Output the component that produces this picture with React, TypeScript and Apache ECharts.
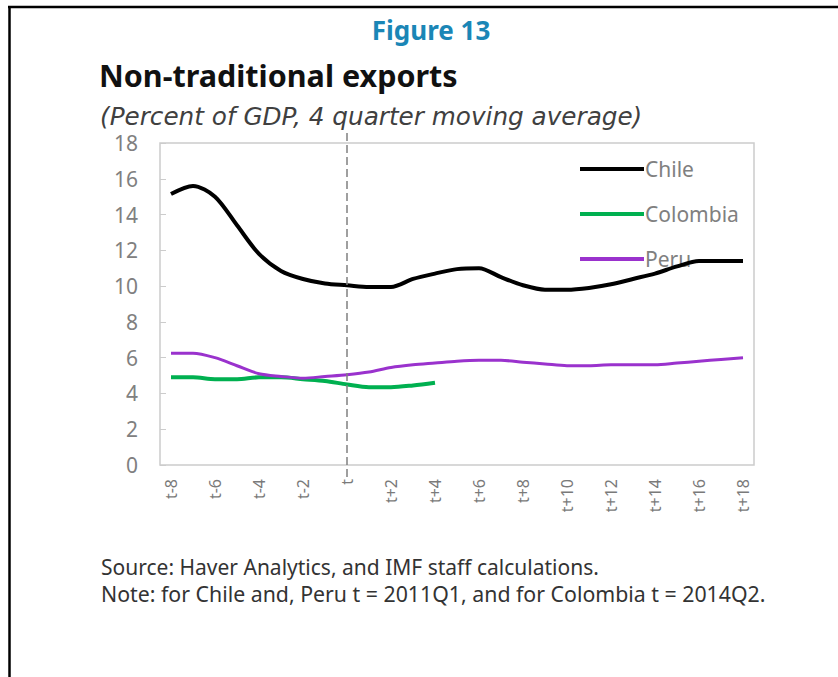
import React, { useEffect, useRef } from "react";
import * as echarts from "echarts";

const categories = [
  "t-8", "t-7", "t-6", "t-5", "t-4", "t-3", "t-2", "t-1", "t",
  "t+1", "t+2", "t+3", "t+4", "t+5", "t+6", "t+7", "t+8", "t+9", "t+10",
  "t+11", "t+12", "t+13", "t+14", "t+15", "t+16", "t+17", "t+18",
];

const chile = [
  15.15, 15.6, 15.0, 13.4, 11.8, 10.85, 10.4, 10.15, 10.05,
  9.95, 9.95, 10.4, 10.7, 10.95, 11.0, 10.5, 10.05, 9.8, 9.8,
  9.9, 10.1, 10.4, 10.7, 11.1, 11.4, 11.4, 11.4,
];

const colombia = [
  4.9, 4.9, 4.8, 4.8, 4.9, 4.9, 4.8, 4.7, 4.5,
  4.35, 4.35, 4.45, 4.6,
];

const peru = [
  6.25, 6.25, 6.0, 5.55, 5.1, 4.95, 4.85, 4.95, 5.05,
  5.2, 5.45, 5.6, 5.7, 5.8, 5.85, 5.85, 5.75, 5.65, 5.55,
  5.55, 5.6, 5.6, 5.6, 5.7, 5.8, 5.9, 6.0,
];

const seriesNames = ["Chile", "Colombia", "Peru"];
const seriesColors = ["#000000", "#00b050", "#9a32cd"];
const markerCategory = "t";

const figureLabel = "Figure 13";
const titleText = "Non-traditional exports";
const subtitleText = "(Percent of GDP, 4 quarter moving average)";
const sourceText = "Source: Haver Analytics, and IMF staff calculations.";
const noteText = "Note: for Chile and, Peru t = 2011Q1, and for Colombia t = 2014Q2.";

const FONT = '"Noto Sans", "Open Sans", sans-serif';

export default function App() {
  const ref = useRef<HTMLDivElement>(null);

  useEffect(() => {
    document.body.style.margin = "0";
    if (!ref.current) return;
    const chart = echarts.init(ref.current, null, { renderer: "svg" });

    const option: any = {
      animation: false,
      backgroundColor: "#ffffff",
      textStyle: { fontFamily: FONT },
      grid: {
        left: 160,
        top: 143,
        right: 84,
        bottom: 212,
        show: true,
        borderColor: "#cccccc",
        borderWidth: 1.5,
        backgroundColor: "transparent",
        containLabel: false,
      },
      legend: {
        orient: "vertical",
        left: 575,
        top: 153,
        z: 1,
        icon: "rect",
        itemWidth: 64,
        itemHeight: 4,
        itemGap: 23,
        data: seriesNames,
        textStyle: {
          fontFamily: FONT,
          fontSize: 21,
          color: "#808080",
          lineHeight: 22,
          padding: [0, 0, 0, -4],
        },
      },
      xAxis: {
        type: "category",
        data: categories,
        boundaryGap: true,
        axisLine: { show: false },
        axisTick: { show: false },
        splitLine: { show: false },
        axisLabel: {
          interval: 1,
          rotate: 90,
          margin: 14,
          fontSize: 16,
          fontFamily: FONT,
          color: "#7a7a7a",
        },
      },
      yAxis: {
        type: "value",
        min: 0,
        max: 18,
        interval: 2,
        axisLine: { show: false },
        splitLine: { show: false },
        axisTick: {
          show: true,
          inside: true,
          length: 6,
          lineStyle: { color: "#cccccc", width: 1 },
        },
        axisLabel: {
          fontSize: 21,
          fontFamily: FONT,
          color: "#808080",
          margin: 22,
        },
      },
      series: [
        {
          name: seriesNames[0],
          type: "line",
          data: chile,
          smooth: 0.3,
          showSymbol: false,
          z: 4,
          lineStyle: { color: seriesColors[0], width: 4 },
          itemStyle: { color: seriesColors[0] },
        },
        {
          name: seriesNames[1],
          type: "line",
          data: colombia,
          smooth: 0.3,
          showSymbol: false,
          z: 3,
          lineStyle: { color: seriesColors[1], width: 4 },
          itemStyle: { color: seriesColors[1] },
        },
        {
          name: seriesNames[2],
          type: "line",
          data: peru,
          smooth: 0.3,
          showSymbol: false,
          z: 3,
          lineStyle: { color: seriesColors[2], width: 3 },
          itemStyle: { color: seriesColors[2] },
        },
      ],
      graphic: [
        {
          id: "frameTop",
          type: "line",
          shape: { x1: 8, y1: 7, x2: 838, y2: 7 },
          style: { stroke: "#000", lineWidth: 2.5 },
        },
        {
          id: "frameLeft",
          type: "line",
          shape: { x1: 9.5, y1: 6, x2: 9.5, y2: 677 },
          style: { stroke: "#000", lineWidth: 2.5 },
        },
        {
          id: "fig",
          type: "text",
          x: 431,
          y: 30,
          style: {
            text: figureLabel,
            font: `bold 26px ${FONT}`,
            fill: "#1a86b6",
            textAlign: "center",
            textVerticalAlign: "middle",
          },
        },
        {
          id: "title",
          type: "text",
          x: 99,
          y: 75,
          style: {
            text: titleText,
            font: `bold 30.5px ${FONT}`,
            fill: "#111111",
            textAlign: "left",
            textVerticalAlign: "middle",
          },
        },
        {
          id: "subtitle",
          type: "text",
          x: 100,
          y: 116,
          style: {
            text: subtitleText,
            font: `italic 24.7px "DejaVu Sans", ${FONT}`,
            fill: "#404040",
            textAlign: "left",
            textVerticalAlign: "middle",
          },
        },
        {
          id: "source",
          type: "text",
          x: 101,
          y: 567,
          style: {
            text: sourceText,
            font: `21px ${FONT}`,
            fill: "#333333",
            textAlign: "left",
            textVerticalAlign: "middle",
          },
        },
        {
          id: "note",
          type: "text",
          x: 101,
          y: 593,
          style: {
            text: noteText,
            font: `21.3px ${FONT}`,
            fill: "#333333",
            textAlign: "left",
            textVerticalAlign: "middle",
          },
        },
      ],
    };

    chart.setOption(option);

    const px = chart.convertToPixel({ xAxisIndex: 0 }, markerCategory) as number;
    const yTop = chart.convertToPixel({ yAxisIndex: 0 }, 18) as number;
    const yBottom = chart.convertToPixel({ yAxisIndex: 0 }, 0) as number;
    chart.setOption({
      graphic: [
        {
          id: "tLine",
          type: "line",
          z: 10,
          silent: true,
          shape: { x1: px, y1: yTop - 10, x2: px, y2: yBottom + 12 },
          style: { stroke: "#808080", lineWidth: 1.5, lineDash: [8, 4] },
        },
      ],
    });

    return () => chart.dispose();
  }, []);

  return <div ref={ref} style={{ width: 838, height: 677 }} />;
}
